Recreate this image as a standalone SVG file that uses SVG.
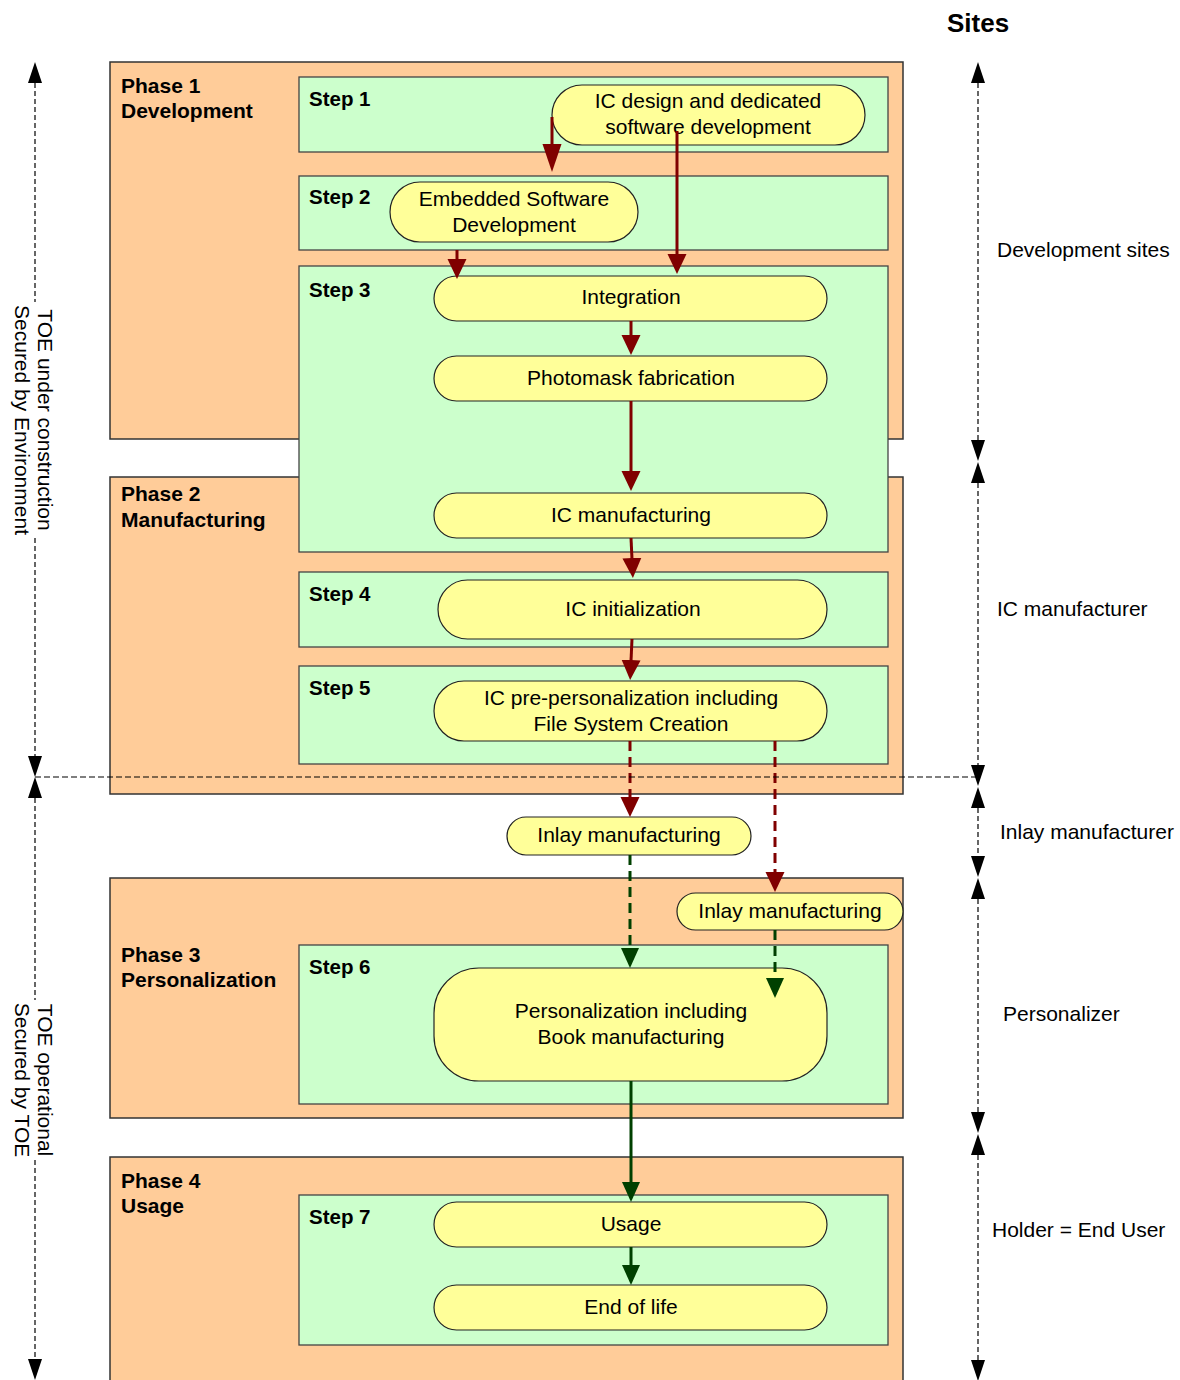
<svg xmlns="http://www.w3.org/2000/svg" width="1180" height="1380" viewBox="0 0 1180 1380">
<style>
text{font-family:"Liberation Sans",Arial,sans-serif;fill:#000}
.ph{fill:#FFCC99;stroke:#333;stroke-width:1.5}
.st{fill:#CCFFCC;stroke:#444;stroke-width:1.3}
.nd{fill:#FFFF99;stroke:#222;stroke-width:1.2}
.lb{font-size:21px;font-weight:bold}
.sl{font-size:20.5px;font-weight:bold}
.nt{font-size:21px;text-anchor:middle}
.rt{font-size:21px}
.rc{stroke:#800000;stroke-width:3;fill:none}
.gc{stroke:#004000;stroke-width:3;fill:none}
.dsh{stroke-dasharray:10,6}
.ax{stroke:#000;stroke-width:1.2;stroke-dasharray:5,3;fill:none}
</style>
<defs>
<marker id="ar" markerUnits="userSpaceOnUse" markerWidth="20" markerHeight="20" viewBox="0 0 20 20" refX="1" refY="10" orient="auto"><path d="M0,0.5 L20,10 L0,19.5 z" fill="#800000"/></marker>
<marker id="arb" markerUnits="userSpaceOnUse" markerWidth="28" markerHeight="20" viewBox="0 0 28 20" refX="1" refY="10" orient="auto"><path d="M0,0.5 L28,10 L0,19.5 z" fill="#800000"/></marker>
<marker id="ag" markerUnits="userSpaceOnUse" markerWidth="20" markerHeight="20" viewBox="0 0 20 20" refX="1" refY="10" orient="auto"><path d="M0,1 L20,10 L0,19 z" fill="#004000"/></marker>
<marker id="ab" markerUnits="userSpaceOnUse" markerWidth="21" markerHeight="14" viewBox="0 0 21 14" refX="0" refY="7" orient="auto-start-reverse"><path d="M0,0 L21,7 L0,14 z" fill="#000"/></marker>
</defs>

<g id="phase1"><rect class="ph" x="110" y="62" width="793" height="377"/><text class="lb" x="121" y="93">Phase 1</text><text class="lb" x="121" y="118">Development</text></g>
<g id="phase2"><rect class="ph" x="110" y="477" width="793" height="317"/><text class="lb" x="121" y="501">Phase 2</text><text class="lb" x="121" y="527">Manufacturing</text></g>
<g id="phase3"><rect class="ph" x="110" y="878" width="793" height="240"/><text class="lb" x="121" y="962">Phase 3</text><text class="lb" x="121" y="987">Personalization</text></g>
<g id="phase4"><rect class="ph" x="110" y="1157" width="793" height="240"/><text class="lb" x="121" y="1188">Phase 4</text><text class="lb" x="121" y="1213">Usage</text></g>

<g id="step1"><rect class="st" x="299" y="77" width="589" height="75"/><text class="sl" x="309" y="106">Step 1</text></g>
<g id="step2"><rect class="st" x="299" y="176" width="589" height="74"/><text class="sl" x="309" y="204">Step 2</text></g>
<g id="step3"><rect class="st" x="299" y="266" width="589" height="286"/><text class="sl" x="309" y="297">Step 3</text></g>
<g id="step4"><rect class="st" x="299" y="572" width="589" height="75"/><text class="sl" x="309" y="601">Step 4</text></g>
<g id="step5"><rect class="st" x="299" y="666" width="589" height="98"/><text class="sl" x="309" y="695">Step 5</text></g>
<g id="step6"><rect class="st" x="299" y="945" width="589" height="159"/><text class="sl" x="309" y="974">Step 6</text></g>
<g id="step7"><rect class="st" x="299" y="1195" width="589" height="150"/><text class="sl" x="309" y="1224">Step 7</text></g>

<g id="n-icdesign"><rect class="nd" x="552" y="85" width="313" height="60" rx="30"/><text class="nt" x="708" y="108">IC design and dedicated</text><text class="nt" x="708" y="134">software development</text></g>
<g id="n-embedded"><rect class="nd" x="390" y="182" width="248" height="60" rx="30"/><text class="nt" x="514" y="206">Embedded Software</text><text class="nt" x="514" y="232">Development</text></g>
<g id="n-integration"><rect class="nd" x="434" y="276" width="393" height="45" rx="22.5"/><text class="nt" x="631" y="304">Integration</text></g>
<g id="n-photomask"><rect class="nd" x="434" y="356" width="393" height="45" rx="22.5"/><text class="nt" x="631" y="385">Photomask fabrication</text></g>
<g id="n-icmanuf"><rect class="nd" x="434" y="493" width="393" height="45" rx="22.5"/><text class="nt" x="631" y="522">IC manufacturing</text></g>
<g id="n-icinit"><rect class="nd" x="438" y="580" width="389" height="59" rx="29.5"/><text class="nt" x="633" y="616">IC initialization</text></g>
<g id="n-icprepers"><rect class="nd" x="434" y="681" width="393" height="60" rx="30"/><text class="nt" x="631" y="705">IC pre-personalization including</text><text class="nt" x="631" y="731">File System Creation</text></g>
<g id="n-inlay1"><rect class="nd" x="507" y="817" width="244" height="38" rx="19"/><text class="nt" x="629" y="842">Inlay manufacturing</text></g>
<g id="n-inlay2"><rect class="nd" x="677" y="893" width="226" height="37" rx="18.5"/><text class="nt" x="790" y="918">Inlay manufacturing</text></g>
<g id="n-perso"><rect class="nd" x="434" y="968" width="393" height="113" rx="45"/><text class="nt" x="631" y="1018">Personalization including</text><text class="nt" x="631" y="1044">Book manufacturing</text></g>
<g id="n-usage"><rect class="nd" x="434" y="1202" width="393" height="45" rx="22.5"/><text class="nt" x="631" y="1231">Usage</text></g>
<g id="n-eol"><rect class="nd" x="434" y="1285" width="393" height="45" rx="22.5"/><text class="nt" x="631" y="1314">End of life</text></g>

<g id="connectors">
<line class="rc" x1="552" y1="117" x2="552" y2="145" marker-end="url(#arb)"/>
<line class="rc" x1="677" y1="131" x2="677" y2="255" marker-end="url(#ar)"/>
<line class="rc" x1="457" y1="250" x2="457" y2="260" marker-end="url(#ar)"/>
<line class="rc" x1="631" y1="321" x2="631" y2="336" marker-end="url(#ar)"/>
<line class="rc" x1="631" y1="401" x2="631" y2="472" marker-end="url(#ar)"/>
<line class="rc" x1="631" y1="538" x2="632" y2="559" marker-end="url(#ar)"/>
<line class="rc" x1="632" y1="639" x2="631" y2="661" marker-end="url(#ar)"/>
<line class="rc dsh" x1="630" y1="741" x2="630" y2="798" marker-end="url(#ar)"/>
<line class="rc dsh" x1="775" y1="741" x2="775" y2="873" marker-end="url(#ar)"/>
<line class="gc dsh" x1="630" y1="855" x2="630" y2="949" marker-end="url(#ag)"/>
<line class="gc dsh" x1="775" y1="930" x2="775" y2="979" marker-end="url(#ag)"/>
<line class="gc" x1="631" y1="1081" x2="631" y2="1183" marker-end="url(#ag)"/>
<line class="gc" x1="631" y1="1247" x2="631" y2="1266" marker-end="url(#ag)"/>
</g>

<g id="left-axis">
<line class="ax" x1="35" y1="83" x2="35" y2="302" marker-start="url(#ab)"/>
<line class="ax" x1="35" y1="538" x2="35" y2="756" marker-end="url(#ab)"/>
<line class="ax" x1="35" y1="798" x2="35" y2="1000" marker-start="url(#ab)"/>
<line class="ax" x1="35" y1="1160" x2="35" y2="1359" marker-end="url(#ab)"/>
<text class="rt" text-anchor="middle" transform="translate(38,420) rotate(90)">TOE under construction</text>
<text class="rt" text-anchor="middle" transform="translate(15,420) rotate(90)">Secured by Environment</text>
<text class="rt" text-anchor="middle" transform="translate(38,1080) rotate(90)">TOE operational</text>
<text class="rt" text-anchor="middle" transform="translate(15,1080) rotate(90)">Secured by TOE</text>
</g>

<line id="boundary" class="ax" x1="35" y1="777" x2="978" y2="777" style="stroke-dasharray:6,3"/>

<g id="sites">
<text x="947" y="32" style="font-size:26px;font-weight:bold">Sites</text>
<line class="ax" x1="978" y1="83" x2="978" y2="440" marker-start="url(#ab)" marker-end="url(#ab)"/>
<line class="ax" x1="978" y1="483" x2="978" y2="765" marker-start="url(#ab)" marker-end="url(#ab)"/>
<line class="ax" x1="978" y1="808" x2="978" y2="856" marker-start="url(#ab)" marker-end="url(#ab)"/>
<line class="ax" x1="978" y1="899" x2="978" y2="1112" marker-start="url(#ab)" marker-end="url(#ab)"/>
<line class="ax" x1="978" y1="1155" x2="978" y2="1360" marker-start="url(#ab)" marker-end="url(#ab)"/>
<text class="rt" x="997" y="257">Development sites</text>
<text class="rt" x="997" y="616">IC manufacturer</text>
<text class="rt" x="1000" y="839">Inlay manufacturer</text>
<text class="rt" x="1003" y="1021">Personalizer</text>
<text class="rt" x="992" y="1237">Holder = End User</text>
</g>
</svg>
